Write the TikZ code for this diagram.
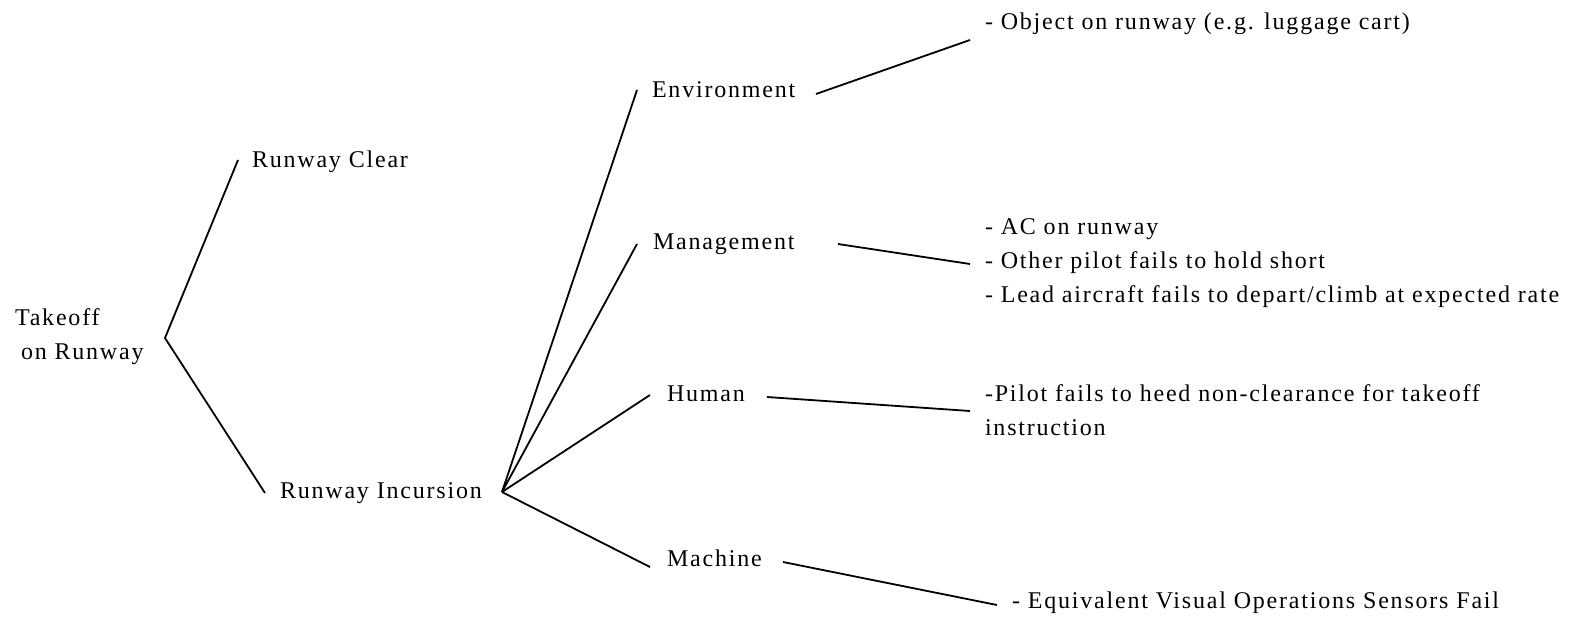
\documentclass[tikz,border=0pt]{standalone}
\usepackage{fontspec}
\setmainfont{Liberation Serif}[LetterSpace=7.5]
\begin{document}
\begin{tikzpicture}[x=0.5pt,y=-0.5pt,
  lbl/.style={inner sep=0pt, outer sep=0pt, font=\fontsize{12pt}{17pt}\selectfont, align=left},
  link/.style={line width=0.9pt, black}]
\useasboundingbox (0,0) rectangle (1575,621);
% labels
\node[lbl, anchor=west] (tk) at (15,337) {Takeoff\\\hspace*{3pt}on Runway};
\node[lbl, anchor=base west] (rc) at (252,167) {Runway Clear};
\node[lbl, anchor=base west] (ri) at (280,498) {Runway Incursion};
\node[lbl, anchor=base west] (env) at (652,97) {Environment};
\node[lbl, anchor=base west] (mgmt) at (653,249) {Management};
\node[lbl, anchor=base west] (hum) at (667,401) {Human};
\node[lbl, anchor=base west] (mach) at (667,566) {Machine};
\node[lbl, anchor=base west] (obj) at (985,29) {- Object on runway (e.g. luggage cart)};
\node[lbl, anchor=west] (mlist) at (985,263) {- AC on runway\\- Other pilot fails to hold short\\- Lead aircraft fails to depart/climb at expected rate};
\node[lbl, anchor=west] (hlist) at (985,410.5) {-Pilot fails to heed non-clearance for takeoff\\instruction};
\node[lbl, anchor=base west] (eq) at (1012,608) {- Equivalent Visual Operations Sensors Fail};
% connector points
\coordinate (f1) at (165,338);
\coordinate (rc-in) at (238,160);
\coordinate (ri-in) at (265,493);
\coordinate (f2) at (502,492);
\coordinate (env-in) at (637,90);
\coordinate (mgmt-in) at (637,244);
\coordinate (hum-in) at (650,395);
\coordinate (mach-in) at (650,567);
\coordinate (env-out) at (816,94);
\coordinate (obj-in) at (970,40);
\coordinate (mgmt-out) at (838,244);
\coordinate (mlist-in) at (970,264);
\coordinate (hum-out) at (767,397);
\coordinate (hlist-in) at (970,411);
\coordinate (mach-out) at (783,562);
\coordinate (eq-in) at (997,605);
% connectors
\draw[link] (rc-in) -- (f1) -- (ri-in);
\draw[link] (env-in) -- (f2);
\draw[link] (mgmt-in) -- (f2);
\draw[link] (hum-in) -- (f2);
\draw[link] (mach-in) -- (f2);
\draw[link] (env-out) -- (obj-in);
\draw[link] (mgmt-out) -- (mlist-in);
\draw[link] (hum-out) -- (hlist-in);
\draw[link] (mach-out) -- (eq-in);
\end{tikzpicture}
\end{document}
